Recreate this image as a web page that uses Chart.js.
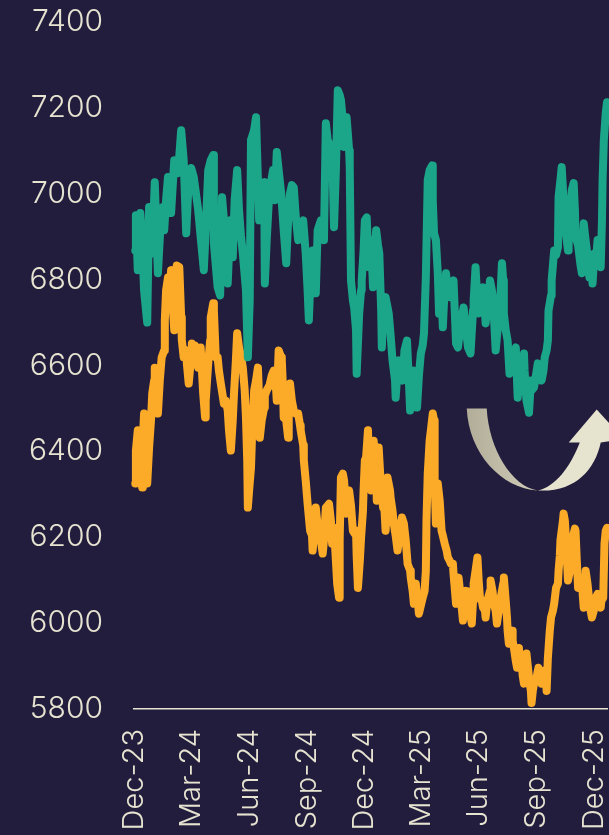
<!DOCTYPE html>
<html>
<head>
<meta charset="utf-8">
<script src="https://cdn.jsdelivr.net/npm/chart.js@4.4.1/dist/chart.umd.min.js"></script>
<style>
  html, body { margin: 0; padding: 0; background: #231d3d; }
  #wrap { width: 609px; height: 835px; position: relative; }
</style>
</head>
<body>
<div id="wrap"><canvas id="c"></canvas></div>
<script>
// x values are days since 1 Dec 2023
const tickDays = [0, 91, 183, 275, 366, 456, 548, 640, 731];
const tickLabels = ["Dec-23", "Mar-24", "Jun-24", "Sep-24", "Dec-24", "Mar-25", "Jun-25", "Sep-25", "Dec-25"];
const yTicks = [5800, 6000, 6200, 6400, 6600, 6800, 7000, 7200, 7400];

const tealDays = [2,3,6,10,13,16,21,24,29,33,38,43,46,48,51,54,59,64,70,75,79,83,86,91,95,102,106,111,114,118,122,126,127,133,137,140,143,146,149,153,157,160,164,167,170,173,178,181,184,186,191,194,197,199,203,207,208,211,215,221,224,227,230,234,238,242,245,248,251,254,257,261,265,269,273,276,278,281,284,289,292,297,302,305,308,310,313,315,318,321,324,327,329,332,334,337,338,342,343,345,348,350,353,354,358,361,362,365,367,370,373,377,380,383,385,388,390,393,394,397,400,405,408,411,415,416,419,421,424,427,430,434,437,439,442,445,448,450,453,456,459,461,464,467,470,474,475,477,480,483,485,488,491,493,496,499,502,505,508,512,515,520,524,528,531,535,539,540,543,545,548,551,555,558,559,563,566,569,572,575,578,580,583,585,587,588,591,594,597,601,604,607,610,613,617,620,621,624,628,631,632,636,639,642,645,648,651,653,656,658,659,663,664,668,671,674,675,678,680,682,683,686,690,691,693,696,699,701,702,706,707,710,712,713,715,718,720,723,724,728,729,732,734,737,740,742,744,745,747,750,752];
const tealValues = [6868,6950,6822,6955,6892,6775,6700,6969,6861,7027,6815,6950,6969,6915,6985,7039,6955,7078,7048,7148,7078,6908,7001,7060,7039,6962,6899,6822,6915,7055,7078,7090,6885,6782,6763,6992,6938,6868,6791,6938,6852,6985,7055,6962,6903,6861,6775,6619,6752,7125,7148,7178,7032,6938,6985,7027,6791,6892,7001,7055,6985,7097,7055,7001,6915,6838,6938,7001,7020,7015,6950,6892,6927,6938,6861,6775,6705,6822,6868,6768,6915,6938,6892,7164,7125,7118,7078,7109,6922,7055,7241,7230,7218,7171,7109,7160,7178,7101,7062,6798,6752,6735,6682,6581,6721,6775,6798,6868,6938,6945,6829,6892,6782,6868,6915,6880,6861,6728,6642,6752,6759,6721,6670,6612,6565,6525,6588,6612,6577,6565,6635,6658,6565,6495,6565,6588,6530,6502,6577,6628,6647,6675,6805,7032,7055,7066,6985,6908,6892,6815,6721,6798,6689,6752,6815,6775,6759,6787,6798,6651,6642,6705,6735,6682,6642,6628,6728,6752,6829,6775,6721,6752,6782,6728,6698,6752,6798,6775,6721,6635,6682,6721,6775,6838,6798,6721,6682,6658,6581,6612,6628,6642,6525,6565,6605,6628,6588,6518,6490,6565,6542,6549,6577,6605,6584,6565,6588,6619,6635,6658,6728,6763,6798,6868,6857,6875,6992,7032,7062,7008,6978,6915,6868,6915,6955,7008,7025,6962,6899,6880,6868,6833,6815,6868,6931,6892,6868,6822,6805,6833,6791,6861,6833,6892,6857,6829,6938,7032,7125,7188,7213];

const orangeDays = [2,3,6,10,13,14,16,19,21,24,27,29,32,33,37,38,41,44,48,49,51,54,56,59,60,64,67,68,72,75,76,79,83,84,87,91,92,95,97,100,102,105,106,108,110,113,114,118,121,122,126,127,130,133,135,138,141,143,146,149,151,154,157,159,162,164,167,170,173,176,178,180,181,183,186,188,191,194,197,199,200,203,207,208,211,215,216,219,222,226,227,230,234,235,237,238,242,245,246,248,251,254,257,261,264,265,269,270,273,276,280,283,284,288,289,292,294,297,300,302,305,308,310,313,315,318,321,323,326,327,329,332,334,337,338,342,345,348,351,353,354,356,359,361,364,365,367,369,372,373,377,380,381,385,386,388,389,392,396,397,400,402,403,407,408,411,413,416,419,423,426,429,432,435,439,440,443,445,448,451,453,456,459,462,464,465,467,470,472,475,477,478,480,483,486,489,491,494,497,499,502,504,507,508,512,513,516,520,523,524,528,529,532,535,537,539,540,543,546,548,550,553,555,558,559,561,563,566,567,570,572,575,577,580,583,587,588,591,593,594,596,599,601,602,604,607,609,610,612,613,617,618,620,623,624,626,628,631,632,634,636,639,640,642,643,647,648,650,651,655,656,658,661,663,666,668,671,674,675,677,678,682,683,685,686,688,690,693,694,698,699,701,702,704,706,709,710,713,715,717,718,721,723,726,728,731,732,734,737,740,742,743,746,748,750,752];
const orangeValues = [6325,6402,6449,6355,6316,6425,6488,6402,6325,6409,6472,6535,6565,6595,6542,6488,6565,6619,6635,6705,6775,6805,6752,6822,6775,6682,6775,6833,6829,6712,6660,6619,6635,6605,6558,6623,6651,6635,6647,6612,6595,6612,6642,6588,6535,6479,6518,6605,6658,6712,6745,6728,6619,6619,6588,6558,6530,6511,6518,6495,6449,6402,6472,6535,6612,6675,6642,6623,6595,6542,6479,6379,6269,6309,6362,6449,6542,6565,6595,6518,6432,6472,6502,6530,6542,6553,6558,6577,6588,6542,6518,6635,6619,6612,6542,6479,6472,6432,6495,6558,6518,6495,6488,6488,6460,6449,6414,6379,6332,6278,6215,6204,6169,6239,6269,6227,6199,6193,6162,6193,6269,6274,6278,6239,6185,6222,6145,6092,6059,6193,6339,6348,6332,6255,6285,6309,6274,6215,6208,6215,6157,6082,6145,6199,6262,6309,6379,6386,6449,6379,6309,6355,6425,6355,6285,6355,6409,6332,6269,6297,6215,6262,6339,6309,6292,6262,6232,6204,6169,6215,6246,6232,6193,6138,6122,6106,6075,6045,6092,6052,6022,6041,6059,6075,6122,6239,6348,6425,6449,6488,6472,6332,6232,6325,6285,6215,6204,6185,6169,6153,6145,6138,6138,6115,6045,6075,6106,6052,6006,6045,6075,6052,6036,6017,5999,6052,6092,6122,6153,6099,6059,6052,6036,6029,6013,6041,6059,6075,6099,6075,6045,6029,5999,6029,6059,6092,6106,6052,6013,5982,5952,5970,5982,5959,5942,5912,5896,5924,5942,5912,5896,5877,5859,5889,5929,5901,5873,5842,5814,5842,5859,5866,5873,5889,5896,5875,5859,5873,5889,5866,5842,5919,5982,6013,6029,6045,6082,6092,6122,6157,6193,6239,6255,6239,6215,6157,6099,6122,6138,6180,6208,6220,6215,6145,6082,6099,6106,6075,6036,6075,6122,6092,6064,6029,6013,6029,6052,6059,6068,6041,6036,6052,6059,6185,6215,6222];

const BG = '#231d3d';
const TEAL = '#1ba68a';
const ORANGE = '#fbab28';
const CREAM = '#e6e3d1';
const FONT = "Inter, 'Liberation Sans', sans-serif";

const toPoints = (xs, ys) => xs.map((d, i) => ({ x: d, y: ys[i] }));

// decorative U-turn arrow, anchored in data space (day 529, 6500)
const arrowPlugin = {
  id: 'arrow',
  afterDatasetsDraw(chart) {
    const { ctx, scales } = chart;
    const ox = scales.x.getPixelForValue(529);
    const oy = scales.y.getPixelForValue(6500);
    ctx.save();
    ctx.translate(ox, oy);
    const g = ctx.createLinearGradient(0, 0, 95, 0);
    g.addColorStop(0, '#b1ad99');
    g.addColorStop(0.75, '#cfccb7');
    g.addColorStop(1, '#e6e3ce');
    ctx.fillStyle = g;
    ctx.beginPath();
    ctx.moveTo(0, 0);
    ctx.lineTo(20, 0);
    ctx.bezierCurveTo(22, 40, 45, 78, 71, 82);
    ctx.bezierCurveTo(35, 80, 2, 45, 0, 0);
    ctx.closePath();
    ctx.fill();
    ctx.fillStyle = '#e6e3ce';
    ctx.beginPath();
    ctx.moveTo(71, 82);
    ctx.bezierCurveTo(88, 79, 104, 58, 113, 34);
    ctx.lineTo(102, 34);
    ctx.lineTo(130, 1);
    ctx.lineTo(157, 31);
    ctx.lineTo(134, 34);
    ctx.bezierCurveTo(128, 62, 108, 84, 71, 82);
    ctx.closePath();
    ctx.fill();
    ctx.restore();
  }
};

const lineStyle = {
  borderWidth: 8,
  borderCapStyle: 'round',
  borderJoinStyle: 'round',
  pointRadius: 0,
  tension: 0,
  clip: false
};

new Chart(document.getElementById('c'), {
  type: 'line',
  data: {
    datasets: [
      Object.assign({ label: 'Teal', data: toPoints(tealDays, tealValues), borderColor: TEAL }, lineStyle),
      Object.assign({ label: 'Orange', data: toPoints(orangeDays, orangeValues), borderColor: ORANGE }, lineStyle)
    ]
  },
  options: {
    responsive: true,
    maintainAspectRatio: false,
    animation: false,
    layout: { padding: { top: 22, right: 2, left: 0, bottom: 0 } },
    plugins: { legend: { display: false }, tooltip: { enabled: false } },
    scales: {
      x: {
        type: 'linear',
        min: 0,
        max: 752,
        grid: { display: false, drawTicks: false },
        border: { display: true, color: CREAM, width: 1.5 },
        afterBuildTicks: (s) => { s.ticks = tickDays.map(v => ({ value: v })); },
        afterFit: (s) => { s.height = 126; s.paddingLeft = 0; s.paddingRight = 0; },
        ticks: {
          autoSkip: false,
          maxRotation: 90,
          minRotation: 90,
          padding: 20,
          color: CREAM,
          font: { family: FONT, size: 29, weight: 300 },
          callback: (v, i) => tickLabels[i]
        }
      },
      y: {
        min: 5800,
        max: 7400,
        grid: { display: false, drawTicks: false },
        border: { display: false },
        afterBuildTicks: (s) => { s.ticks = yTicks.map(v => ({ value: v })); },
        afterFit: (s) => { s.width = 134; s.paddingTop = 0; s.paddingBottom = 0; },
        ticks: {
          padding: 31,
          color: CREAM,
          font: { family: FONT, size: 30, weight: 300 },
          callback: (v) => String(v)
        }
      }
    }
  },
  plugins: [arrowPlugin]
});
</script>
</body>
</html>
